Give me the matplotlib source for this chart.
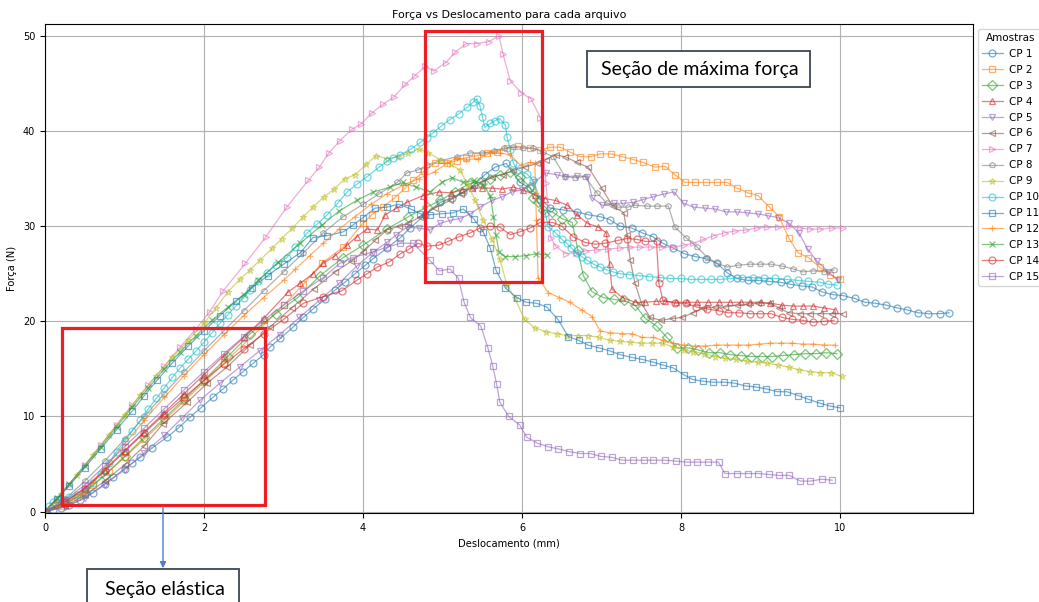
import matplotlib.pyplot as plt
from matplotlib.patches import Rectangle, FancyArrowPatch

# (deslocamento mm, força N)
cp1 = [(0, 0), (0.1, 0.2), (0.2, 0.4), (0.3, 0.7), (0.44, 1.2), (0.6, 2.0), (0.75, 2.9), (0.86, 3.6),
       (1.0, 4.5), (1.1, 5.1), (1.2, 5.7), (1.35, 6.7), (1.53, 7.8), (1.68, 8.8), (1.82, 9.9), (1.96, 10.9),
       (2.11, 12.0), (2.24, 12.9), (2.36, 13.8), (2.49, 14.7), (2.62, 15.6), (2.75, 16.5), (2.83, 17.3),
       (2.96, 18.2), (3.12, 19.4), (3.25, 20.4), (3.37, 21.3), (3.52, 22.3), (3.65, 23.3), (3.77, 24.1),
       (3.9, 25.0), (4.03, 25.9), (4.13, 26.6), (4.3, 27.7), (4.47, 28.8), (4.59, 29.8), (4.78, 31.2),
       (4.97, 32.5), (5.12, 33.0), (5.26, 33.6), (5.39, 34.3), (5.53, 35.4), (5.66, 36.2), (5.8, 36.6),
       (5.97, 34.6), (6.1, 34.0), (6.23, 32.9), (6.35, 31.9), (6.52, 31.7), (6.69, 31.5), (6.83, 31.2),
       (6.98, 31.0), (7.1, 30.7), (7.23, 30.0), (7.38, 29.8), (7.51, 29.3), (7.64, 28.9), (7.77, 28.2),
       (7.9, 27.7), (8.04, 27.1), (8.18, 26.8), (8.31, 26.6), (8.45, 26.1), (8.58, 25.1), (8.7, 24.5),
       (8.84, 24.3), (8.97, 24.3), (9.1, 24.2), (9.25, 24.1), (9.37, 23.9), (9.52, 23.7), (9.65, 23.6),
       (9.77, 23.1), (9.91, 22.8), (10.04, 22.7), (10.18, 22.4), (10.31, 22.0), (10.44, 21.9), (10.58, 21.7),
       (10.72, 21.4), (10.84, 21.2), (10.98, 20.9), (11.11, 20.8), (11.25, 20.8), (11.37, 20.9)]

cp2 = [(0, 0), (0.2, 0.6), (0.4, 1.5), (0.6, 2.8), (0.8, 4.2), (1.0, 5.7), (1.25, 7.6), (1.5, 9.6),
       (1.75, 11.6), (2.0, 13.6), (2.25, 15.6), (2.5, 17.6), (2.75, 19.6), (3.0, 21.7), (3.25, 23.9),
       (3.48, 26.1), (3.75, 27.8), (4.0, 30.3), (4.11, 31.2), (4.25, 32.0), (4.4, 33.0), (4.53, 34.0),
       (4.63, 34.8), (4.77, 35.8), (4.9, 36.6), (5.05, 36.6), (5.18, 36.9), (5.3, 37.2), (5.43, 37.4),
       (5.56, 37.7), (5.68, 37.8), (5.81, 38.2), (5.95, 38.4), (6.1, 38.2), (6.23, 38.0), (6.35, 38.3),
       (6.48, 38.3), (6.6, 37.8), (6.73, 37.3), (6.86, 37.3), (6.98, 37.6), (7.12, 37.6), (7.26, 37.3),
       (7.4, 37.0), (7.52, 36.7), (7.67, 36.2), (7.8, 36.3), (7.92, 35.4), (8.05, 34.6), (8.18, 34.6),
       (8.31, 34.6), (8.45, 34.6), (8.58, 34.6), (8.7, 34.0), (8.84, 33.5), (8.97, 33.2), (9.11, 32.0),
       (9.23, 31.0), (9.35, 28.8), (9.47, 27.2), (9.6, 26.7), (9.74, 25.7), (9.87, 24.9), (10.0, 24.4)]

cp3 = [(0, 0), (0.25, 0.8), (0.5, 2.0), (0.75, 3.8), (1.0, 5.8), (1.25, 7.8), (1.5, 9.8), (1.75, 11.8),
       (2.0, 13.8), (2.3, 16.3), (2.58, 18.7), (2.9, 20.8), (3.18, 22.5), (3.46, 24.8), (3.75, 26.7),
       (4.0, 28.0), (4.3, 29.7), (4.57, 31.0), (4.8, 32.0), (4.97, 32.7), (5.15, 33.6), (5.35, 34.5),
       (5.47, 34.6), (5.6, 35.0), (5.72, 35.4), (5.85, 35.7), (5.97, 35.2), (6.1, 34.1), (6.14, 33.0),
       (6.2, 32.5), (6.26, 31.7), (6.38, 31.5), (6.5, 30.8), (6.63, 30.4), (6.7, 27.5), (6.77, 24.8),
       (6.88, 23.1), (7.02, 22.5), (7.15, 22.3), (7.28, 22.2), (7.42, 21.7), (7.55, 20.3), (7.69, 19.5),
       (7.82, 18.3), (7.95, 17.2), (8.09, 17.2), (8.21, 17.0), (8.35, 16.7), (8.49, 16.7), (8.62, 16.5),
       (8.75, 16.4), (8.88, 16.3), (9.02, 16.3), (9.14, 16.3), (9.28, 16.4), (9.42, 16.5), (9.56, 16.6),
       (9.7, 16.6), (9.82, 16.7), (9.96, 16.6)]

cp4 = [(0, 0), (0.25, 1.0), (0.5, 2.5), (0.75, 4.4), (1.0, 6.4), (1.25, 8.4), (1.5, 10.4), (1.75, 12.4),
       (2.0, 14.4), (2.25, 16.4), (2.5, 18.3), (2.75, 20.3), (3.06, 23.1), (3.21, 24.0), (3.37, 25.0),
       (3.5, 26.1), (3.65, 26.9), (3.8, 28.0), (3.92, 28.9), (4.05, 29.7), (4.18, 29.6), (4.28, 31.2),
       (4.42, 31.9), (4.55, 32.5), (4.75, 33.2), (4.95, 33.6), (5.1, 33.5), (5.24, 33.8), (5.37, 34.0),
       (5.5, 34.0), (5.62, 34.0), (5.75, 33.9), (5.89, 34.1), (6.01, 33.8), (6.16, 33.3), (6.29, 32.9),
       (6.42, 32.7), (6.57, 32.2), (6.69, 31.2), (6.82, 30.3), (6.96, 29.9), (7.06, 29.3), (7.1, 26.0),
       (7.13, 23.4), (7.26, 22.5), (7.42, 22.0), (7.55, 22.0), (7.68, 22.1), (7.8, 22.1), (7.94, 22.0),
       (8.07, 22.0), (8.2, 22.0), (8.34, 22.0), (8.48, 22.0), (8.62, 22.0), (8.75, 22.0), (8.87, 22.0),
       (9.0, 22.0), (9.12, 21.9), (9.27, 21.7), (9.41, 21.6), (9.53, 21.6), (9.66, 21.6), (9.8, 21.4),
       (9.94, 21.2)]

cp5 = [(0, 0), (0.25, 0.5), (0.5, 1.4), (0.75, 2.8), (1.0, 4.4), (1.25, 6.2), (1.5, 8.0), (1.72, 9.8),
       (1.95, 11.7), (2.2, 13.5), (2.45, 15.2), (2.7, 16.9), (2.95, 18.6), (3.2, 20.4), (3.45, 22.2),
       (3.7, 24.0), (3.92, 25.8), (4.13, 27.3), (4.3, 28.3), (4.42, 29.1), (4.55, 29.9), (4.7, 29.8),
       (4.84, 29.6), (4.97, 30.3), (5.09, 30.6), (5.22, 30.8), (5.35, 31.3), (5.47, 32.0), (5.62, 32.7),
       (5.75, 33.1), (5.87, 33.6), (6.0, 33.8), (6.15, 34.6), (6.3, 35.6), (6.44, 35.4), (6.54, 35.2),
       (6.69, 35.3), (6.82, 35.2), (6.88, 33.0), (7.01, 32.2), (7.15, 32.4), (7.27, 32.4), (7.4, 32.5),
       (7.52, 32.8), (7.65, 33.1), (7.79, 33.4), (7.91, 33.6), (8.03, 32.4), (8.16, 32.0), (8.3, 31.9),
       (8.43, 31.8), (8.57, 31.5), (8.7, 31.5), (8.83, 31.4), (8.96, 31.3), (9.09, 31.1), (9.22, 30.9),
       (9.36, 30.3), (9.48, 29.3), (9.59, 27.6), (9.71, 26.3), (9.85, 25.2), (9.97, 24.3)]

cp6 = [(0, 0), (0.25, 0.6), (0.5, 1.7), (0.75, 3.2), (1.0, 4.9), (1.25, 6.9), (1.48, 9.2), (1.79, 11.5),
       (2.04, 13.5), (2.29, 15.2), (2.58, 17.5), (2.83, 19.4), (3.1, 21.4), (3.38, 23.4), (3.65, 25.2),
       (3.85, 26.3), (4.0, 27.3), (4.15, 28.5), (4.3, 29.6), (4.45, 30.0), (4.57, 30.3), (4.72, 31.0),
       (4.9, 31.9), (5.09, 32.7), (5.23, 33.4), (5.37, 34.0), (5.5, 34.6), (5.62, 35.2), (5.76, 35.4),
       (5.89, 35.9), (6.03, 36.2), (6.19, 36.6), (6.3, 37.0), (6.42, 37.5), (6.54, 37.3), (6.69, 36.7),
       (6.83, 36.2), (7.0, 34.0), (7.14, 32.1), (7.28, 31.4), (7.32, 29.1), (7.36, 26.4), (7.42, 24.0),
       (7.5, 21.9), (7.61, 20.4), (7.75, 20.1), (7.89, 20.3), (8.01, 20.4), (8.15, 20.9), (8.28, 21.4),
       (8.42, 21.5), (8.55, 21.5), (8.7, 21.7), (8.84, 21.8), (8.97, 21.9), (9.12, 21.9), (9.23, 21.4),
       (9.35, 20.9), (9.5, 20.8), (9.62, 20.8), (9.75, 20.8), (9.9, 20.8), (10.03, 20.8)]

cp7 = [(0, 0), (0.15, 1.2), (0.3, 2.8), (0.5, 4.9), (0.7, 7.0), (0.9, 9.1), (1.1, 11.2), (1.3, 13.3),
       (1.5, 15.3), (1.7, 17.3), (1.9, 19.2), (2.07, 21.0), (2.24, 23.2), (2.52, 26.1), (2.78, 28.9),
       (3.04, 32.0), (3.31, 34.8), (3.45, 36.2), (3.57, 37.7), (3.71, 39.0), (3.86, 40.2), (3.97, 40.7),
       (4.11, 41.9), (4.25, 42.8), (4.39, 43.6), (4.53, 44.9), (4.65, 45.8), (4.78, 46.8), (4.89, 46.3),
       (5.04, 47.2), (5.16, 48.3), (5.3, 49.2), (5.43, 49.2), (5.58, 49.4), (5.71, 50.0), (5.76, 48.1),
       (5.85, 45.3), (5.99, 44.0), (6.11, 43.4), (6.23, 41.4), (6.3, 34.5), (6.36, 28.8), (6.42, 27.9),
       (6.55, 27.1), (6.68, 27.2), (6.8, 27.4), (6.94, 27.5), (7.08, 27.6), (7.23, 27.7), (7.36, 27.8),
       (7.48, 27.8), (7.62, 27.8), (7.76, 27.8), (7.9, 27.8), (8.03, 28.0), (8.15, 28.2), (8.28, 28.6),
       (8.41, 29.0), (8.55, 29.3), (8.68, 29.5), (8.82, 29.6), (8.95, 29.8), (9.08, 29.9), (9.22, 29.9),
       (9.35, 30.0), (9.5, 29.8), (9.62, 29.7), (9.75, 29.7), (9.9, 29.8), (10.03, 29.8)]

cp8 = [(0, 0), (0.25, 1.3), (0.5, 3.2), (0.75, 5.3), (1.0, 7.6), (1.25, 10.0), (1.5, 12.4), (1.75, 14.7),
       (2.0, 16.9), (2.25, 19.0), (2.5, 21.1), (2.75, 23.2), (3.0, 25.2), (3.25, 27.2), (3.5, 29.3),
       (3.75, 31.0), (4.0, 32.3), (4.2, 33.4), (4.43, 34.6), (4.55, 35.6), (4.69, 35.9), (4.8, 36.4),
       (4.98, 36.9), (5.18, 37.3), (5.35, 37.7), (5.5, 37.7), (5.65, 37.9), (5.77, 38.2), (5.89, 38.3),
       (6.01, 38.2), (6.14, 38.2), (6.26, 37.8), (6.39, 37.3), (6.54, 35.2), (6.67, 35.1), (6.79, 35.2),
       (6.94, 33.5), (7.07, 32.4), (7.2, 32.0), (7.33, 32.0), (7.42, 32.2), (7.57, 32.1), (7.7, 32.1),
       (7.84, 32.1), (7.92, 29.9), (8.06, 28.8), (8.2, 27.8), (8.33, 26.7), (8.45, 26.1), (8.58, 25.7),
       (8.72, 25.9), (8.86, 26.0), (8.99, 26.0), (9.13, 26.0), (9.27, 25.8), (9.41, 25.5), (9.53, 25.2),
       (9.66, 25.3), (9.8, 25.2), (9.92, 25.4)]

cp9 = [(0, 0), (0.2, 1.8), (0.4, 3.8), (0.6, 5.9), (0.8, 8.0), (1.0, 10.2), (1.2, 12.3), (1.4, 14.3),
       (1.6, 16.2), (1.8, 18.0), (2.0, 19.8), (2.15, 21.4), (2.3, 23.1), (2.45, 24.4), (2.58, 25.4),
       (2.7, 26.4), (2.86, 27.7), (2.98, 28.7), (3.11, 29.8), (3.25, 31.0), (3.37, 32.0), (3.51, 33.1),
       (3.64, 33.9), (3.77, 35.0), (3.9, 35.4), (4.04, 36.5), (4.16, 37.4), (4.3, 37.1), (4.44, 37.3),
       (4.57, 37.7), (4.7, 38.1), (4.82, 37.7), (4.97, 37.0), (5.1, 36.5), (5.22, 35.9), (5.32, 34.3),
       (5.41, 32.7), (5.51, 30.6), (5.62, 28.7), (5.72, 26.5), (5.81, 23.8), (5.91, 22.4), (6.03, 20.2),
       (6.16, 19.3), (6.3, 18.9), (6.44, 18.7), (6.57, 18.5), (6.7, 18.5), (6.83, 18.5), (6.97, 18.3),
       (7.1, 18.0), (7.23, 17.9), (7.36, 17.8), (7.5, 17.7), (7.63, 17.7), (7.76, 17.7), (7.9, 17.3),
       (8.03, 17.0), (8.15, 16.8), (8.29, 16.6), (8.43, 16.3), (8.55, 16.1), (8.69, 16.0), (8.83, 15.8),
       (8.96, 15.7), (9.08, 15.6), (9.22, 15.4), (9.35, 15.2), (9.48, 14.9), (9.62, 14.7), (9.75, 14.6),
       (9.89, 14.6), (10.02, 14.2)]

cp10 = [(0, 0), (0.05, 0.6), (0.1, 1.0), (0.2, 1.3), (0.3, 1.5), (0.4, 1.7), (0.5, 2.1), (0.6, 3.0),
        (0.7, 4.0), (0.8, 5.1), (0.9, 6.3), (1.0, 7.4), (1.1, 8.5), (1.2, 9.6), (1.3, 10.8), (1.4, 11.9),
        (1.5, 13.0), (1.6, 14.1), (1.7, 15.1), (1.8, 16.0), (1.9, 16.9), (2.0, 17.8), (2.1, 18.8),
        (2.2, 19.8), (2.3, 20.7), (2.4, 21.6), (2.5, 22.5), (2.58, 23.3), (2.68, 24.2), (2.79, 25.1),
        (2.9, 25.9), (3.04, 26.7), (3.15, 27.8), (3.3, 29.3), (3.42, 30.2), (3.55, 31.2), (3.68, 32.4),
        (3.8, 33.6), (3.92, 34.4), (4.05, 35.2), (4.2, 36.2), (4.3, 36.8), (4.38, 37.2), (4.47, 37.5),
        (4.6, 38.1), (4.72, 38.8), (4.8, 39.3), (4.88, 39.8), (4.98, 40.5), (5.09, 41.2), (5.2, 41.8),
        (5.31, 42.5), (5.38, 43.0), (5.43, 43.4), (5.47, 42.6), (5.5, 41.5), (5.53, 40.4), (5.6, 40.8),
        (5.66, 41.1), (5.72, 41.3), (5.79, 40.6), (5.81, 39.4), (5.85, 38.0), (5.89, 36.6), (5.95, 35.9),
        (6.06, 35.5), (6.14, 34.8), (6.23, 32.7), (6.29, 31.4), (6.33, 29.9), (6.42, 29.3), (6.5, 28.6),
        (6.56, 28.2), (6.62, 27.7), (6.69, 27.2), (6.75, 26.8), (6.82, 26.4), (6.9, 26.0), (6.98, 25.7),
        (7.06, 25.4), (7.14, 25.2), (7.23, 25.0), (7.35, 24.9), (7.47, 24.8), (7.6, 24.7), (7.73, 24.6),
        (7.86, 24.5), (8.0, 24.5), (8.12, 24.4), (8.25, 24.4), (8.37, 24.4), (8.49, 24.4), (8.62, 24.5),
        (8.76, 24.6), (8.9, 24.6), (9.04, 24.5), (9.18, 24.5), (9.33, 24.4), (9.47, 24.3), (9.6, 24.2),
        (9.75, 24.1), (9.85, 23.9), (9.96, 23.8)]

cp11 = [(0, 0), (0.15, 1.3), (0.3, 2.7), (0.5, 4.6), (0.7, 6.6), (0.9, 8.6), (1.1, 10.6), (1.25, 12.2),
        (1.41, 13.8), (1.6, 15.6), (1.8, 17.4), (2.0, 19.0), (2.2, 20.6), (2.4, 22.1), (2.6, 23.5),
        (2.8, 24.8), (3.0, 26.0), (3.21, 27.2), (3.37, 28.8), (3.55, 29.0), (3.75, 29.4), (3.87, 30.1),
        (4.0, 30.9), (4.15, 31.9), (4.3, 32.0), (4.45, 32.3), (4.6, 31.8), (4.72, 31.3), (4.84, 31.2),
        (4.99, 31.3), (5.13, 31.4), (5.26, 31.8), (5.39, 30.8), (5.51, 29.4), (5.6, 27.7), (5.67, 25.4),
        (5.79, 23.5), (5.93, 22.5), (6.05, 22.0), (6.18, 21.9), (6.31, 21.5), (6.45, 20.2), (6.58, 18.4),
        (6.71, 18.0), (6.83, 17.5), (6.97, 17.2), (7.1, 16.9), (7.23, 16.5), (7.38, 16.2), (7.51, 16.0),
        (7.65, 15.7), (7.77, 15.4), (7.9, 15.1), (8.03, 14.4), (8.14, 13.9), (8.27, 13.7), (8.4, 13.6),
        (8.54, 13.6), (8.67, 13.5), (8.81, 13.2), (8.94, 13.1), (9.07, 12.9), (9.21, 12.6), (9.33, 12.6),
        (9.47, 12.2), (9.6, 11.8), (9.74, 11.4), (9.87, 11.1), (10.0, 10.9)]

cp12 = [(0, 0), (0.1, 0.9), (0.3, 1.2), (0.45, 1.8), (0.6, 3.0), (0.8, 5.0), (1.0, 7.1), (1.25, 9.6),
        (1.5, 12.0), (1.75, 14.3), (2.0, 16.5), (2.25, 18.6), (2.5, 20.6), (2.75, 22.5), (3.0, 24.3),
        (3.15, 25.5), (3.33, 26.9), (3.5, 28.2), (3.7, 29.7), (3.9, 31.0), (4.1, 32.3), (4.3, 33.4),
        (4.5, 34.3), (4.7, 35.0), (4.9, 35.7), (5.05, 36.6), (5.18, 37.2), (5.3, 37.0), (5.45, 37.1),
        (5.6, 37.7), (5.72, 37.7), (5.85, 37.5), (5.98, 36.4), (6.1, 36.7), (6.16, 36.6), (6.17, 33.5),
        (6.18, 30.6), (6.2, 24.6), (6.33, 23.0), (6.47, 22.5), (6.6, 22.0), (6.75, 21.2), (6.88, 20.5),
        (6.98, 19.0), (7.1, 18.8), (7.26, 18.7), (7.38, 18.7), (7.51, 18.3), (7.65, 18.3), (7.77, 18.0),
        (7.9, 17.7), (8.03, 17.5), (8.17, 17.4), (8.3, 17.4), (8.44, 17.5), (8.58, 17.5), (8.71, 17.5),
        (8.84, 17.5), (8.98, 17.6), (9.12, 17.7), (9.26, 17.7), (9.4, 17.7), (9.53, 17.6), (9.66, 17.6),
        (9.8, 17.5), (9.94, 17.5)]

cp13 = [(0, 0), (0.15, 1.4), (0.3, 2.9), (0.5, 4.8), (0.7, 6.8), (0.9, 8.9), (1.1, 11.0), (1.3, 13.0),
        (1.5, 15.0), (1.7, 16.8), (1.9, 18.5), (2.1, 20.1), (2.3, 21.5), (2.5, 22.8), (2.68, 24.3),
        (2.93, 26.2), (3.21, 28.2), (3.48, 30.1), (3.7, 31.6), (3.92, 32.7), (4.13, 33.6), (4.34, 34.1),
        (4.5, 34.6), (4.67, 34.1), (4.84, 33.6), (4.99, 34.6), (5.12, 35.1), (5.26, 34.6), (5.4, 34.8),
        (5.52, 34.2), (5.6, 33.2), (5.64, 31.0), (5.67, 29.1), (5.71, 27.3), (5.79, 26.8), (5.91, 26.8),
        (6.05, 26.9), (6.18, 27.1), (6.31, 27.0)]

cp14 = [(0, 0), (0.25, 1.0), (0.5, 2.4), (0.75, 4.3), (1.0, 6.3), (1.25, 8.3), (1.5, 10.2), (1.75, 12.0),
        (2.0, 13.8), (2.25, 15.5), (2.5, 17.1), (2.75, 18.7), (3.0, 20.2), (3.25, 21.9), (3.5, 22.6),
        (3.73, 23.2), (3.92, 24.3), (4.05, 25.0), (4.18, 25.7), (4.32, 26.2), (4.47, 27.1), (4.58, 27.6),
        (4.69, 28.2), (4.8, 27.9), (4.95, 28.0), (5.07, 28.4), (5.21, 28.9), (5.35, 29.3), (5.47, 29.8),
        (5.6, 30.0), (5.72, 29.9), (5.85, 29.1), (5.97, 29.4), (6.1, 29.8), (6.23, 30.4), (6.38, 30.4),
        (6.5, 30.0), (6.64, 28.9), (6.79, 28.3), (6.92, 28.1), (7.04, 28.2), (7.2, 28.5), (7.32, 28.7),
        (7.45, 28.6), (7.55, 28.4), (7.69, 28.4), (7.72, 24.0), (7.77, 22.2), (7.92, 21.9), (8.06, 21.9),
        (8.19, 21.5), (8.33, 21.3), (8.47, 21.1), (8.59, 20.9), (8.73, 20.9), (8.87, 20.8), (8.99, 20.8),
        (9.13, 20.8), (9.27, 20.4), (9.4, 20.2), (9.53, 20.1), (9.66, 19.9), (9.8, 20.0), (9.92, 20.1)]

cp15 = [(0, 0), (0.25, 1.2), (0.5, 2.8), (0.75, 4.8), (1.0, 6.8), (1.25, 8.8), (1.5, 10.8), (1.75, 12.8),
        (2.0, 14.7), (2.25, 16.6), (2.5, 18.4), (2.75, 20.1), (3.0, 21.7), (3.25, 23.2), (3.5, 24.6),
        (3.71, 26.1), (3.87, 26.7), (4.13, 27.3), (4.3, 27.8), (4.47, 28.2), (4.63, 28.2), (4.84, 26.4),
        (4.96, 25.3), (5.09, 25.5), (5.2, 24.5), (5.27, 22.0), (5.35, 20.4), (5.48, 19.5), (5.57, 17.2),
        (5.63, 15.3), (5.68, 13.4), (5.72, 11.5), (5.83, 10.0), (5.97, 9.1), (6.06, 7.8), (6.19, 7.2),
        (6.33, 6.8), (6.45, 6.6), (6.59, 6.3), (6.73, 6.1), (6.86, 6.1), (6.99, 5.8), (7.13, 5.7),
        (7.26, 5.4), (7.4, 5.4), (7.53, 5.4), (7.65, 5.4), (7.8, 5.4), (7.94, 5.3), (8.07, 5.2), (8.2, 5.2),
        (8.34, 5.2), (8.47, 5.2), (8.55, 4.0), (8.7, 4.0), (8.84, 4.0), (8.97, 4.0), (9.1, 3.9), (9.23, 3.8),
        (9.36, 3.8), (9.5, 3.2), (9.62, 3.2), (9.77, 3.4), (9.9, 3.3)]

curves = [cp1, cp2, cp3, cp4, cp5, cp6, cp7, cp8, cp9, cp10, cp11, cp12, cp13, cp14, cp15]
labels = ['CP %d' % (i + 1) for i in range(15)]
markers = ['o', 's', 'D', '^', 'v', '<', '>', 'p', '*', 'o', 's', '+', 'x', 'o', 's']

W, H = 1039, 602


def fxy(px, py):
    # pixel da imagem -> coordenada da figura
    return px / W, 1 - py / H


fig = plt.figure(figsize=(W / 100, H / 100), dpi=100)
ax = fig.add_axes([45 / W, 1 - 513 / H, (973 - 45) / W, (513 - 24) / H])

for pts, lab, mk in zip(curves, labels, markers):
    xs = [p[0] for p in pts]
    ys = [p[1] for p in pts]
    ms = 4 if mk == 'p' else 5
    ax.plot(xs, ys, marker=mk, markersize=ms, markerfacecolor='none',
            linewidth=0.9, markeredgewidth=0.9, alpha=0.6, label=lab)

ax.set_xlim(0, 11.67)
ax.set_ylim(-0.15, 51.25)
ax.set_xticks([0, 2, 4, 6, 8, 10])
ax.set_yticks([0, 10, 20, 30, 40, 50])
ax.tick_params(labelsize=7)
ax.grid(True)
ax.set_title('Força vs Deslocamento para cada arquivo', fontsize=8, pad=4)
ax.set_xlabel('Deslocamento (mm)', fontsize=7.2)
ax.set_ylabel('Força (N)', fontsize=7.2)
ax.legend(title='Amostras', loc='upper left', bbox_to_anchor=(1.0, 1.0),
          fontsize=7.5, title_fontsize=7.5, labelspacing=0.57,
          handletextpad=0.6, borderpad=0.35)

# marcações feitas por cima do gráfico
red = '#ee1c25'
fig.add_artist(Rectangle(fxy(62, 505), (265 - 62) / W, (505 - 328) / H,
                         transform=fig.transFigure, fill=False, ec=red, lw=2.3))
fig.add_artist(Rectangle(fxy(425, 282), (542 - 425) / W, (282 - 31) / H,
                         transform=fig.transFigure, fill=False, ec=red, lw=2.3))

box_ec = '#3a4756'
fig.add_artist(Rectangle(fxy(587, 87), (810 - 587) / W, (87 - 51) / H,
                         transform=fig.transFigure, fc='white', ec=box_ec, lw=1.3))
fig.text(*fxy(700, 70), 'Seção de máxima força', fontsize=14, family='Lato',
         ha='center', va='center')

fig.add_artist(Rectangle(fxy(87, 630), (239 - 87) / W, (630 - 569) / H,
                         transform=fig.transFigure, fc='white', ec=box_ec, lw=1.3))
fig.text(*fxy(165, 589), 'Seção elástica', fontsize=14, family='Lato',
         ha='center', va='center')

fig.add_artist(FancyArrowPatch(fxy(163, 505), fxy(163, 571), transform=fig.transFigure,
                               arrowstyle='-|>', mutation_scale=9, color='#4f7bd0', lw=1))

fig.savefig('out.png', dpi=100)
